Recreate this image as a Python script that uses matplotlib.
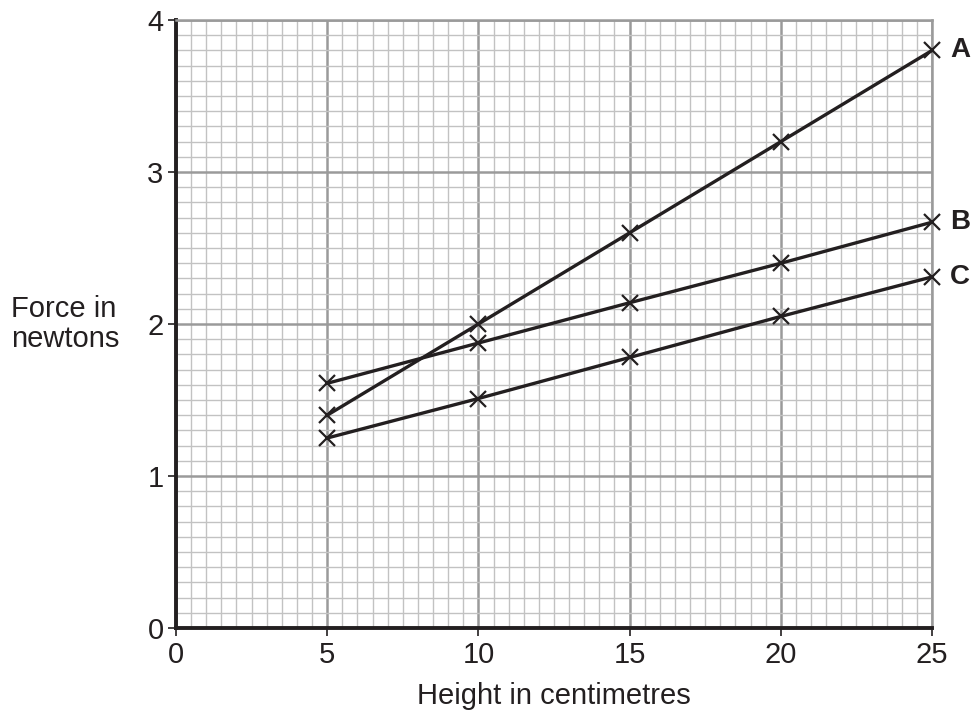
import numpy as np
import matplotlib.pyplot as plt
from matplotlib.ticker import MultipleLocator

plt.rcParams['font.family'] = ['Liberation Sans', 'DejaVu Sans']

# Data
height = [5, 10, 15, 20, 25]
force_a = [1.40, 2.00, 2.60, 3.20, 3.80]
force_b = [1.61, 1.875, 2.14, 2.40, 2.67]
force_c = [1.25, 1.51, 1.78, 2.05, 2.31]
line_names = ['A', 'B', 'C']

ink = '#231f20'
fs = 21

fig = plt.figure(figsize=(9.74, 7.16), dpi=100)
ax = fig.add_axes([0.1807, 0.1229, 0.7762, 0.8491])

ax.set_xlim(0, 25)
ax.set_ylim(0, 4)

# Graph paper grid
ax.xaxis.set_major_locator(MultipleLocator(5))
ax.xaxis.set_minor_locator(MultipleLocator(0.5))
ax.yaxis.set_major_locator(MultipleLocator(1))
ax.yaxis.set_minor_locator(MultipleLocator(0.1))
ax.grid(which='minor', color='#c2c2c2', linewidth=1.0)
ax.grid(which='major', color='#9a9a9a', linewidth=1.8)
ax.set_axisbelow(True)

for series, name in zip([force_a, force_b, force_c], line_names):
    ax.plot(height, series, color=ink, linewidth=2.4, marker='x',
            markersize=11, markeredgewidth=1.6, clip_on=False, zorder=3)
    ax.text(25.6, series[-1], name, fontsize=fs - 1, fontweight='bold',
            color=ink, va='center', ha='left')

for side in ['top', 'right']:
    ax.spines[side].set_color('#9a9a9a')
    ax.spines[side].set_linewidth(1.8)
for side in ['left', 'bottom']:
    ax.spines[side].set_color(ink)
    ax.spines[side].set_linewidth(2.8)

ax.tick_params(which='minor', length=0)
ax.tick_params(which='major', length=6, width=1.2, color=ink,
               labelsize=fs, labelcolor=ink, pad=3)

ax.set_xlabel('Height in centimetres', fontsize=fs, color=ink, labelpad=10)
fig.text(11 / 974, 1 - 324 / 716, 'Force in\nnewtons', fontsize=fs,
         color=ink, ha='left', va='center', linespacing=1.1)

fig.savefig('out.png', dpi=100)
